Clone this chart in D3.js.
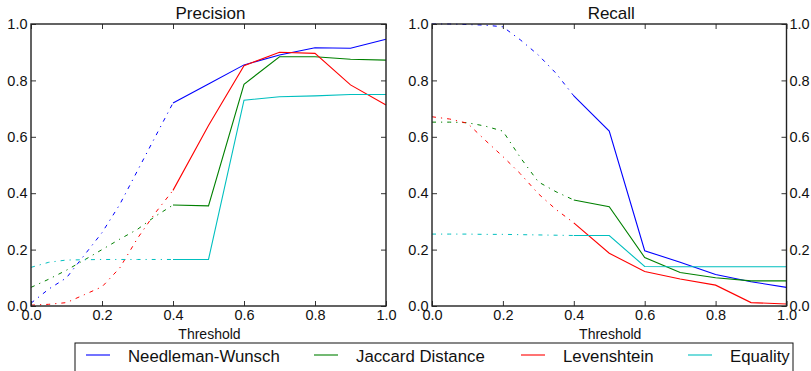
<!DOCTYPE html>
<html>
<head>
<meta charset="utf-8">
<script src="https://cdn.jsdelivr.net/npm/d3@7"></script>
<style>
  body { margin: 0; background: #fff; }
  svg { display: block; font-family: "Liberation Sans", Arial, sans-serif; }
  .axis path { display: none; }
  .axis line { stroke: #333; stroke-width: 1; }
  .axis text { font-size: 14.5px; fill: #111; }
</style>
</head>
<body>
<svg id="chart" width="811" height="371"></svg>
<script>
// thresholds: fine steps for the dash-dot part, coarse for the solid part
var lowX  = [0, 0.05, 0.1, 0.15, 0.2, 0.25, 0.3, 0.35, 0.4];
var highX = [0.4, 0.5, 0.6, 0.7, 0.8, 0.9, 1.0];
var tickVals = [0, 0.2, 0.4, 0.6, 0.8, 1.0];

var names  = ["Needleman-Wunsch", "Jaccard Distance", "Levenshtein", "Equality"];
var colors = ["#0000ff", "#008000", "#ff0000", "#00bfbf"];

// precision
var nwPrecLow   = [0.01, 0.06, 0.10, 0.18, 0.26, 0.36, 0.48, 0.60, 0.72];
var nwPrecHigh  = [0.72, 0.787, 0.855, 0.89, 0.916, 0.914, 0.946];
var jacPrecLow  = [0.066, 0.095, 0.127, 0.163, 0.20, 0.237, 0.272, 0.318, 0.358];
var jacPrecHigh = [0.358, 0.355, 0.786, 0.884, 0.884, 0.875, 0.872];
var levPrecLow  = [0.003, 0.006, 0.012, 0.04, 0.068, 0.135, 0.24, 0.33, 0.41];
var levPrecHigh = [0.41, 0.64, 0.852, 0.90, 0.896, 0.784, 0.713];
var eqPrecLow   = [0.137, 0.155, 0.163, 0.164, 0.165, 0.165, 0.165, 0.165, 0.165];
var eqPrecHigh  = [0.165, 0.165, 0.73, 0.742, 0.745, 0.75, 0.75];

// recall
var nwRecLow   = [1.0, 1.0, 0.998, 0.996, 0.99, 0.943, 0.89, 0.825, 0.745];
var nwRecHigh  = [0.745, 0.62, 0.196, 0.155, 0.112, 0.086, 0.066];
var jacRecLow  = [0.652, 0.652, 0.65, 0.638, 0.62, 0.525, 0.44, 0.405, 0.376];
var jacRecHigh = [0.376, 0.352, 0.172, 0.119, 0.10, 0.089, 0.089];
var levRecLow  = [0.671, 0.663, 0.648, 0.588, 0.53, 0.468, 0.398, 0.342, 0.295];
var levRecHigh = [0.295, 0.187, 0.122, 0.096, 0.074, 0.012, 0.007];
var eqRecLow   = [0.255, 0.255, 0.255, 0.254, 0.254, 0.253, 0.252, 0.251, 0.25];
var eqRecHigh  = [0.25, 0.25, 0.14, 0.139, 0.139, 0.139, 0.139];

var panels = [
  { title: "Precision", x0: 31, x1: 386, leftLabels: true, rightLabels: false,
    low:  [nwPrecLow, jacPrecLow, levPrecLow, eqPrecLow],
    high: [nwPrecHigh, jacPrecHigh, levPrecHigh, eqPrecHigh] },
  { title: "Recall", x0: 432, x1: 786.5, leftLabels: true, rightLabels: true,
    low:  [nwRecLow, jacRecLow, levRecLow, eqRecLow],
    high: [nwRecHigh, jacRecHigh, levRecHigh, eqRecHigh] }
];

var plotTop = 24, plotBottom = 306;
var svg = d3.select("#chart");
var fmt = d3.format(".1f");

panels.forEach(function(p) {
  var x = d3.scaleLinear().domain([0, 1]).range([p.x0, p.x1]);
  var y = d3.scaleLinear().domain([0, 1]).range([plotBottom, plotTop]);
  var g = svg.append("g");

  var line = d3.line()
    .x(function(d) { return x(d[0]); })
    .y(function(d) { return y(d[1]); });

  p.low.forEach(function(vals, i) {
    g.append("path")
      .datum(lowX.map(function(t, j) { return [t, vals[j]]; }))
      .attr("d", line)
      .attr("fill", "none")
      .attr("stroke", colors[i])
      .attr("stroke-width", 1)
      .attr("stroke-dasharray", "4,5,1.2,5");
  });
  p.high.forEach(function(vals, i) {
    g.append("path")
      .datum(highX.map(function(t, j) { return [t, vals[j]]; }))
      .attr("d", line)
      .attr("fill", "none")
      .attr("stroke", colors[i])
      .attr("stroke-width", 1.1);
  });

  // axes with inward ticks on all four sides
  g.append("g").attr("class", "axis")
    .attr("transform", "translate(0," + plotBottom + ")")
    .call(d3.axisBottom(x).tickValues(tickVals).tickFormat(fmt).tickSize(-5).tickPadding(4));
  g.append("g").attr("class", "axis")
    .attr("transform", "translate(0," + plotTop + ")")
    .call(d3.axisTop(x).tickValues(tickVals).tickFormat("").tickSize(-5));
  g.append("g").attr("class", "axis")
    .attr("transform", "translate(" + p.x0 + ",0)")
    .call(d3.axisLeft(y).tickValues(tickVals).tickFormat(p.leftLabels ? fmt : "").tickSize(-5).tickPadding(3.5));
  g.append("g").attr("class", "axis")
    .attr("transform", "translate(" + p.x1 + ",0)")
    .call(d3.axisRight(y).tickValues(tickVals).tickFormat(p.rightLabels ? fmt : "").tickSize(-5).tickPadding(3));

  g.append("rect")
    .attr("x", p.x0).attr("y", plotTop)
    .attr("width", p.x1 - p.x0).attr("height", plotBottom - plotTop)
    .attr("fill", "none").attr("stroke", "#222").attr("stroke-width", 1.4);

  g.append("text")
    .attr("x", (p.x0 + p.x1) / 2 + 2).attr("y", 19)
    .attr("text-anchor", "middle").attr("font-size", 17).attr("fill", "#111")
    .text(p.title);
  g.append("text")
    .attr("x", (p.x0 + p.x1) / 2 + 1).attr("y", 339)
    .attr("text-anchor", "middle").attr("font-size", 14).attr("fill", "#111")
    .text("Threshold");
});

// legend
var legend = svg.append("g");
legend.append("rect")
  .attr("x", 75).attr("y", 343).attr("width", 718).attr("height", 40)
  .attr("fill", "#fff").attr("stroke", "#111").attr("stroke-width", 1);
var handleX = [86, 314, 521, 688];
names.forEach(function(n, i) {
  legend.append("line")
    .attr("x1", handleX[i]).attr("x2", handleX[i] + 24)
    .attr("y1", 355).attr("y2", 355)
    .attr("stroke", colors[i]).attr("stroke-width", 1.1);
  legend.append("text")
    .attr("x", handleX[i] + 42).attr("y", 362)
    .attr("font-size", 16.8).attr("fill", "#111")
    .text(n);
});
</script>
</body>
</html>
